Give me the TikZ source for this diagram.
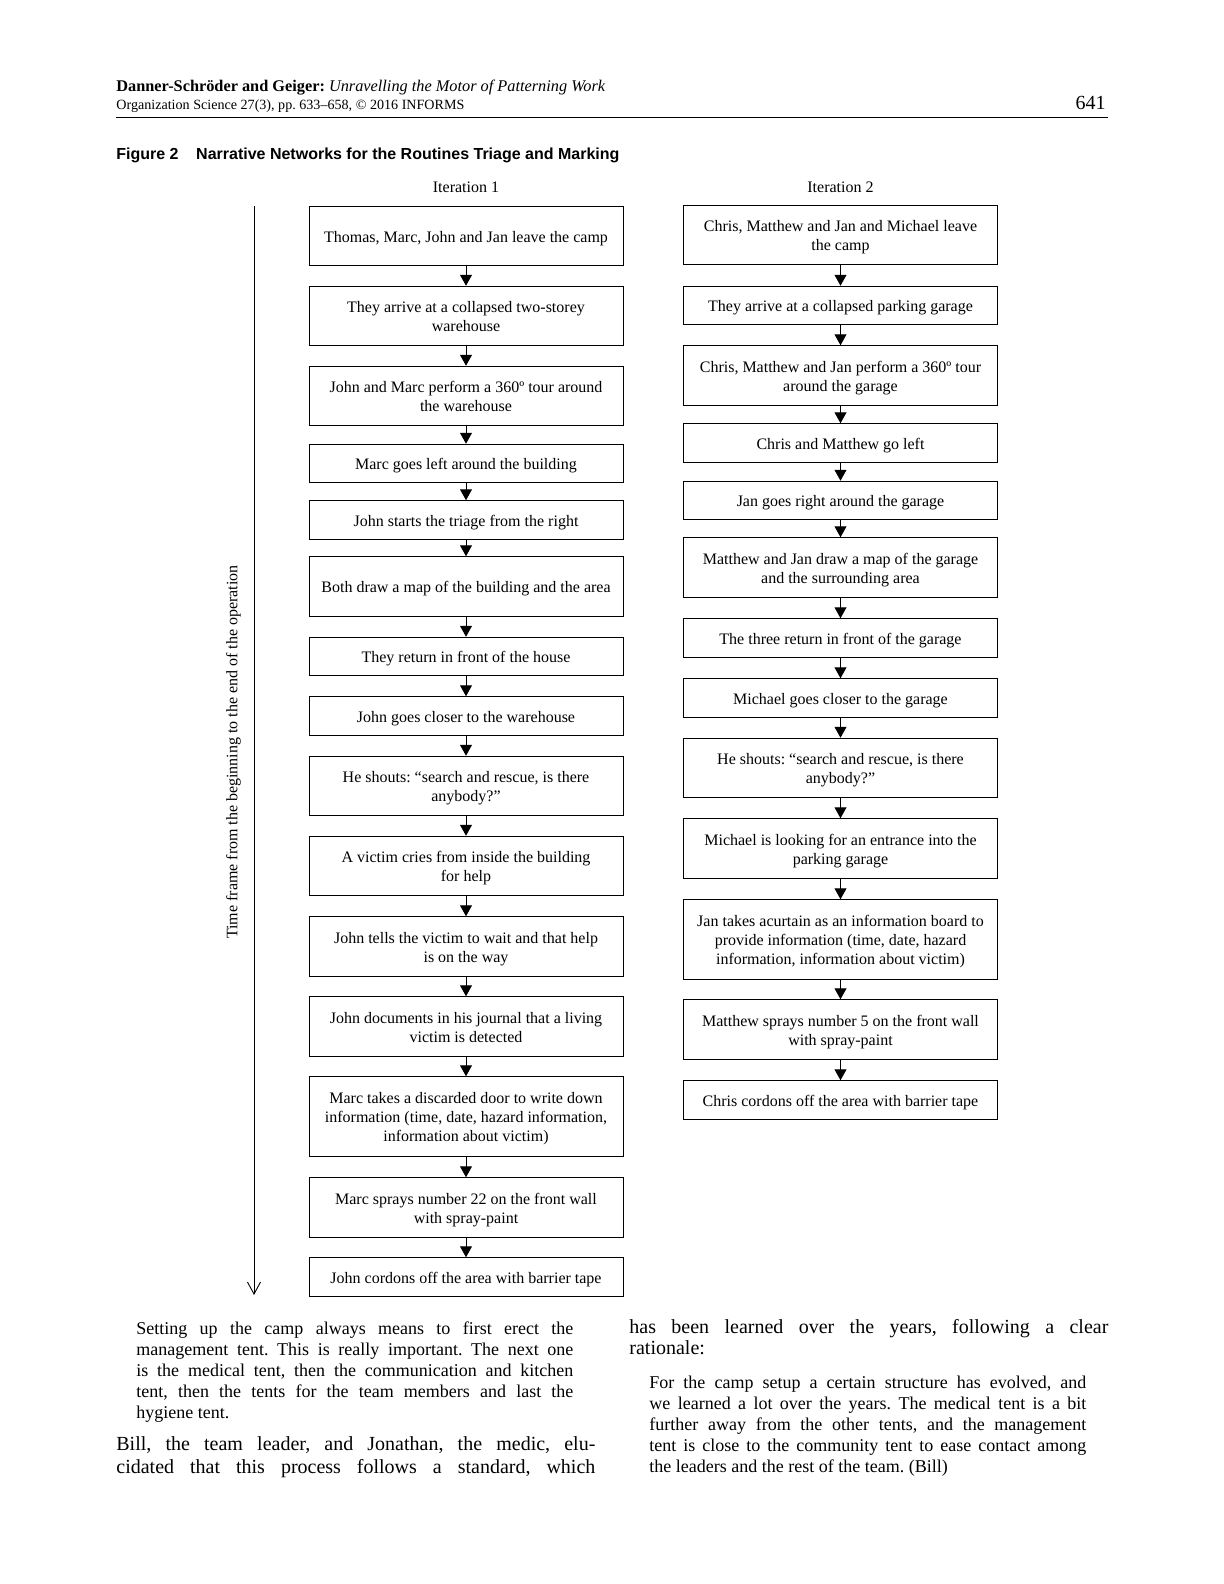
\documentclass[tikz,border=0pt]{standalone}
\usepackage{fontspec}
\setmainfont{Liberation Serif}
\setsansfont{Liberation Sans}
\usetikzlibrary{arrows.meta}
\newcommand\bt[1]{\rule{0pt}{8.6pt}#1\rule[-2.4pt]{0pt}{0pt}}
\frenchspacing
\begin{document}
\begin{tikzpicture}[x=0.5pt,y=-0.5pt,
  box/.style={draw, line width=0.5pt, align=center, minimum width=157pt, inner sep=1pt, font=\fontsize{8}{9.6}\selectfont},
  hA/.style={minimum height=19.25pt},
  hB/.style={minimum height=29.75pt},
  hC/.style={minimum height=39.75pt},
  arr/.style={line width=0.5pt, -{Triangle[width=6pt,length=5.5pt]}},
  lbl/.style={font=\fontsize{8}{9.6}\selectfont, inner sep=0pt},
  bodytext/.style={inner sep=0pt, anchor=base west}
]
\useasboundingbox (0,0) rectangle (1224,1584);
\fill[white] (0,0) rectangle (1224,1584);

% header
\node[bodytext, font=\fontsize{8.15}{9.6}\selectfont] (h1) at (116,92) {\textbf{Danner-Schröder and Geiger:} \textit{Unravelling the Motor of Patterning Work}};
\node[bodytext, font=\fontsize{7.05}{8.4}\selectfont] (h2) at (116,110) {Organization Science 27(3), pp. 633–658, © 2016 INFORMS};
\node[inner sep=0pt, anchor=base east, font=\fontsize{10}{12}\selectfont] (pg) at (1106,110) {641};
\coordinate (r1) at (116,118);
\coordinate (r2) at (1108,118);
\draw[line width=0.5pt] (r1) -- (r2);

% caption
\node[bodytext, font=\sffamily\bfseries\fontsize{8}{9.6}\selectfont] (cap) at (116,159) {Figure 2\hspace{1.1em}Narrative Networks for the Routines Triage and Marking};

% iteration labels
\node[lbl, anchor=base] (it1) at (466,192) {Iteration 1};
\node[lbl, anchor=base] (it2) at (840.5,192) {Iteration 2};

% time arrow
\coordinate (tstart) at (254,206);
\coordinate (tend) at (254,1295);
\draw[line width=0.45pt, -{Straight Barb[width=6.5pt,length=6pt]}] (tstart) -- (tend);
\node[lbl, rotate=90] (tlab) at (233.5,752) {Time frame from the beginning to the end of the operation};

% left column
\node[box,hB] (L1) at (466,236) {\bt{Thomas, Marc, John and Jan leave the camp}};
\node[box,hB] (L2) at (466,316) {\bt{They arrive at a collapsed two-storey\\warehouse}};
\node[box,hB] (L3) at (466,396) {\bt{John and Marc perform a 360º tour around\\the warehouse}};
\node[box,hA] (L4) at (466,463.5) {\bt{Marc goes left around the building}};
\node[box,hA] (L5) at (466,520) {\bt{John starts the triage from the right}};
\node[box,hB] (L6) at (466,586.5) {\bt{Both draw a map of the building and the area}};
\node[box,hA] (L7) at (466,656.5) {\bt{They return in front of the house}};
\node[box,hA] (L8) at (466,716) {\bt{John goes closer to the warehouse}};
\node[box,hB] (L9) at (466,786) {\bt{He shouts: “search and rescue, is there\\anybody?”}};
\node[box,hB] (L10) at (466,866) {\bt{A victim cries from inside the building\\for help}};
\node[box,hB] (L11) at (466,946.5) {\bt{John tells the victim to wait and that help\\is on the way}};
\node[box,hB] (L12) at (466,1026.5) {\bt{John documents in his journal that a living\\victim is detected}};
\node[box,hC] (L13) at (466,1116.5) {\bt{Marc takes a discarded door to write down\\information (time, date, hazard information,\\information about victim)}};
\node[box,hB] (L14) at (466,1207.5) {\bt{Marc sprays number 22 on the front wall\\with spray-paint}};
\node[box,hA] (L15) at (466,1277) {\bt{John cordons off the area with barrier tape}};

\foreach \a/\b in {L1/L2,L2/L3,L3/L4,L4/L5,L5/L6,L6/L7,L7/L8,L8/L9,L9/L10,L10/L11,L11/L12,L12/L13,L13/L14,L14/L15}
  \draw[arr] (\a.south) -- (\b.north);

% right column
\node[box,hB] (R1) at (840.5,235) {\bt{Chris, Matthew and Jan and Michael leave\\the camp}};
\node[box,hA] (R2) at (840.5,305.5) {\bt{They arrive at a collapsed parking garage}};
\node[box,hB] (R3) at (840.5,375.5) {\bt{Chris, Matthew and Jan perform a 360º tour\\around the garage}};
\node[box,hA] (R4) at (840.5,443) {\bt{Chris and Matthew go left}};
\node[box,hA] (R5) at (840.5,500.5) {\bt{Jan goes right around the garage}};
\node[box,hB] (R6) at (840.5,567.5) {\bt{Matthew and Jan draw a map of the garage\\and the surrounding area}};
\node[box,hA] (R7) at (840.5,638) {\bt{The three return in front of the garage}};
\node[box,hA] (R8) at (840.5,698) {\bt{Michael goes closer to the garage}};
\node[box,hB] (R9) at (840.5,768) {\bt{He shouts: “search and rescue, is there\\anybody?”}};
\node[box,hB] (R10) at (840.5,848.5) {\bt{Michael is looking for an entrance into the\\parking garage}};
\node[box,hC] (R11) at (840.5,939.5) {\bt{Jan takes acurtain as an information board to\\provide information (time, date, hazard\\information, information about victim)}};
\node[box,hB] (R12) at (840.5,1029.5) {\bt{Matthew sprays number 5 on the front wall\\with spray-paint}};
\node[box,hA] (R13) at (840.5,1100) {\bt{Chris cordons off the area with barrier tape}};

\foreach \a/\b in {R1/R2,R2/R3,R3/R4,R4/R5,R5/R6,R6/R7,R7/R8,R8/R9,R9/R10,R10/R11,R11/R12,R12/R13}
  \draw[arr] (\a.south) -- (\b.north);

% body text
\node[bodytext] (q1) at (136,1334) {\parbox[t]{218.5pt}{\fontsize{9}{10.5}\selectfont\tolerance=10000\hyphenpenalty=10000
Setting up the camp always means to first erect the\linebreak
management tent. This is really important. The next one\linebreak
is the medical tent, then the communication and kitchen\linebreak
tent, then the tents for the team members and last the\linebreak
hygiene tent.}};
\node[bodytext] (p1) at (116,1450) {\parbox[t]{239.5pt}{\fontsize{10}{11.7}\selectfont\tolerance=10000\hyphenpenalty=10000\parfillskip=0pt
Bill, the team leader, and Jonathan, the medic, elu-\linebreak
cidated that this process follows a standard, which}};
\node[bodytext] (p2) at (629,1333) {\parbox[t]{239.5pt}{\fontsize{10}{10.6}\selectfont\tolerance=10000\hyphenpenalty=10000
has been learned over the years, following a clear\linebreak
rationale:}};
\node[bodytext] (q2) at (649,1388) {\parbox[t]{218.5pt}{\fontsize{9}{10.6}\selectfont\tolerance=10000\hyphenpenalty=10000
For the camp setup a certain structure has evolved, and\linebreak
we learned a lot over the years. The medical tent is a bit\linebreak
further away from the other tents, and the management\linebreak
tent is close to the community tent to ease contact among\linebreak
the leaders and the rest of the team. (Bill)}};
\end{tikzpicture}
\end{document}
